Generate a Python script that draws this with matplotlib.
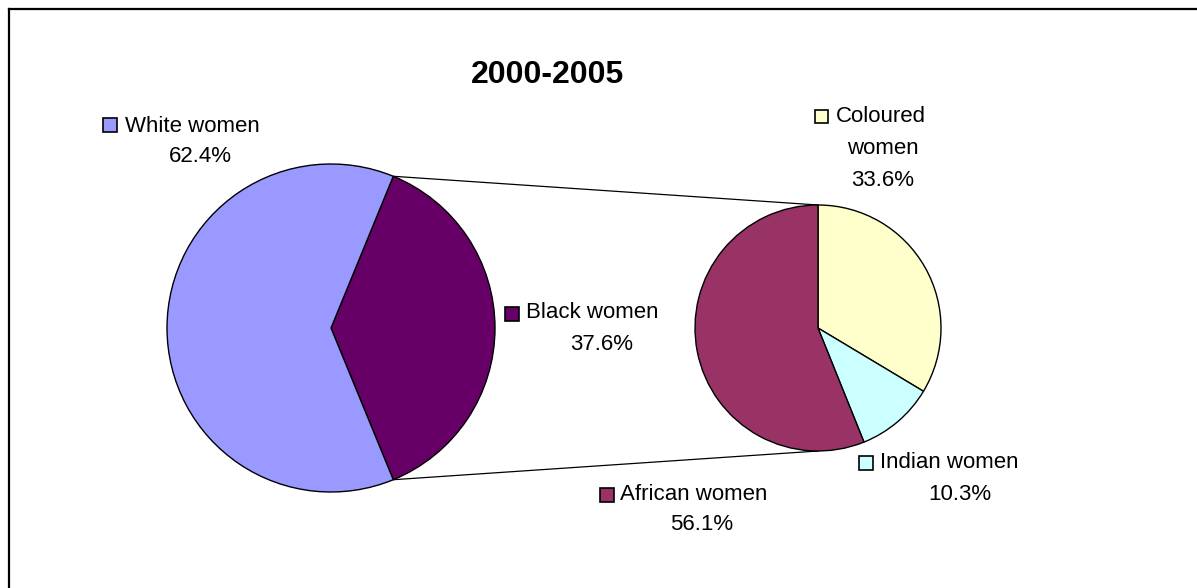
import numpy as np
import matplotlib
matplotlib.use("Agg")
import matplotlib.pyplot as plt
from matplotlib.patches import Rectangle

plt.rcParams['font.family'] = ['Liberation Sans', 'DejaVu Sans']

# Data
title = "2000-2005"
main_labels = ["Black women", "White women"]
main_values = [37.6, 62.4]
main_colors = ["#660066", "#9999FF"]

sub_labels = ["Coloured women", "Indian women", "African women"]
sub_values = [33.6, 10.3, 56.1]
sub_colors = ["#FFFFCC", "#CCFFFF", "#993366"]

W, H = 1197, 588
fig = plt.figure(figsize=(W / 100, H / 100), dpi=100)
ax = fig.add_axes([0, 0, 1, 1])


def fy(y):
    # convert a top-down pixel row into data y
    return H - y


# Main pie: the split-off slice is centred on the right
main_c = (331, fy(328))
main_r = 164
split_half = main_values[0] / sum(main_values) * 360 / 2
ax.pie(main_values, colors=main_colors, startangle=-split_half,
       counterclock=True, center=main_c, radius=main_r,
       wedgeprops=dict(edgecolor="black", linewidth=1.0), frame=True)

# Secondary pie: breakdown of the split-off slice
sub_c = (818, fy(328))
sub_r = 123
ax.pie(sub_values, colors=sub_colors, startangle=90, counterclock=False,
       center=sub_c, radius=sub_r,
       wedgeprops=dict(edgecolor="black", linewidth=1.0), frame=True)

# Connector lines from the split slice to the top/bottom of the secondary pie
a = np.deg2rad(split_half)
for sgn in (1, -1):
    x0 = main_c[0] + main_r * np.cos(a)
    y0 = main_c[1] + sgn * main_r * np.sin(a)
    x1 = sub_c[0]
    y1 = sub_c[1] + sgn * sub_r
    ax.plot([x0, x1], [y0, y1], color="black", lw=0.9, zorder=0)

ax.set_xlim(0, W)
ax.set_ylim(0, H)
ax.set_aspect("auto")
ax.axis("off")

FS = 16


def label(sq_x, sq_y, sq_size, color, first_line, first_x, first_y, rest):
    ax.add_patch(Rectangle((sq_x, fy(sq_y + sq_size)), sq_size, sq_size,
                           facecolor=color, edgecolor="black", lw=1.2, zorder=5))
    ax.text(first_x, fy(first_y), first_line, fontsize=FS, ha="left",
            va="center", zorder=5)
    for txt, cx, cy in rest:
        ax.text(cx, fy(cy), txt, fontsize=FS, ha="center", va="center", zorder=5)


label(103, 118, 14, main_colors[1], main_labels[1], 125, 126,
      [(f"{main_values[1]:.1f}%", 200, 157)])
label(505, 307, 14, main_colors[0], main_labels[0], 526, 313,
      [(f"{main_values[0]:.1f}%", 602, 344)])
label(815, 110, 13, sub_colors[0], "Coloured", 836, 116,
      [("women", 883, 149), (f"{sub_values[0]:.1f}%", 883, 181)])
label(859, 456, 14, sub_colors[1], sub_labels[1], 880, 463,
      [(f"{sub_values[1]:.1f}%", 960, 494)])
label(600, 488, 14, sub_colors[2], sub_labels[2], 620, 494,
      [(f"{sub_values[2]:.1f}%", 702, 525)])

ax.text(548, fy(75), title, fontsize=23, fontweight="bold",
        ha="center", va="center")

# Chart frame (top and left edges visible)
ax.plot([9, W], [fy(9), fy(9)], color="black", lw=1.6, clip_on=False)
ax.plot([9, 9], [fy(9), 0], color="black", lw=1.6, clip_on=False)

fig.savefig("out.png", dpi=100, facecolor="white")
